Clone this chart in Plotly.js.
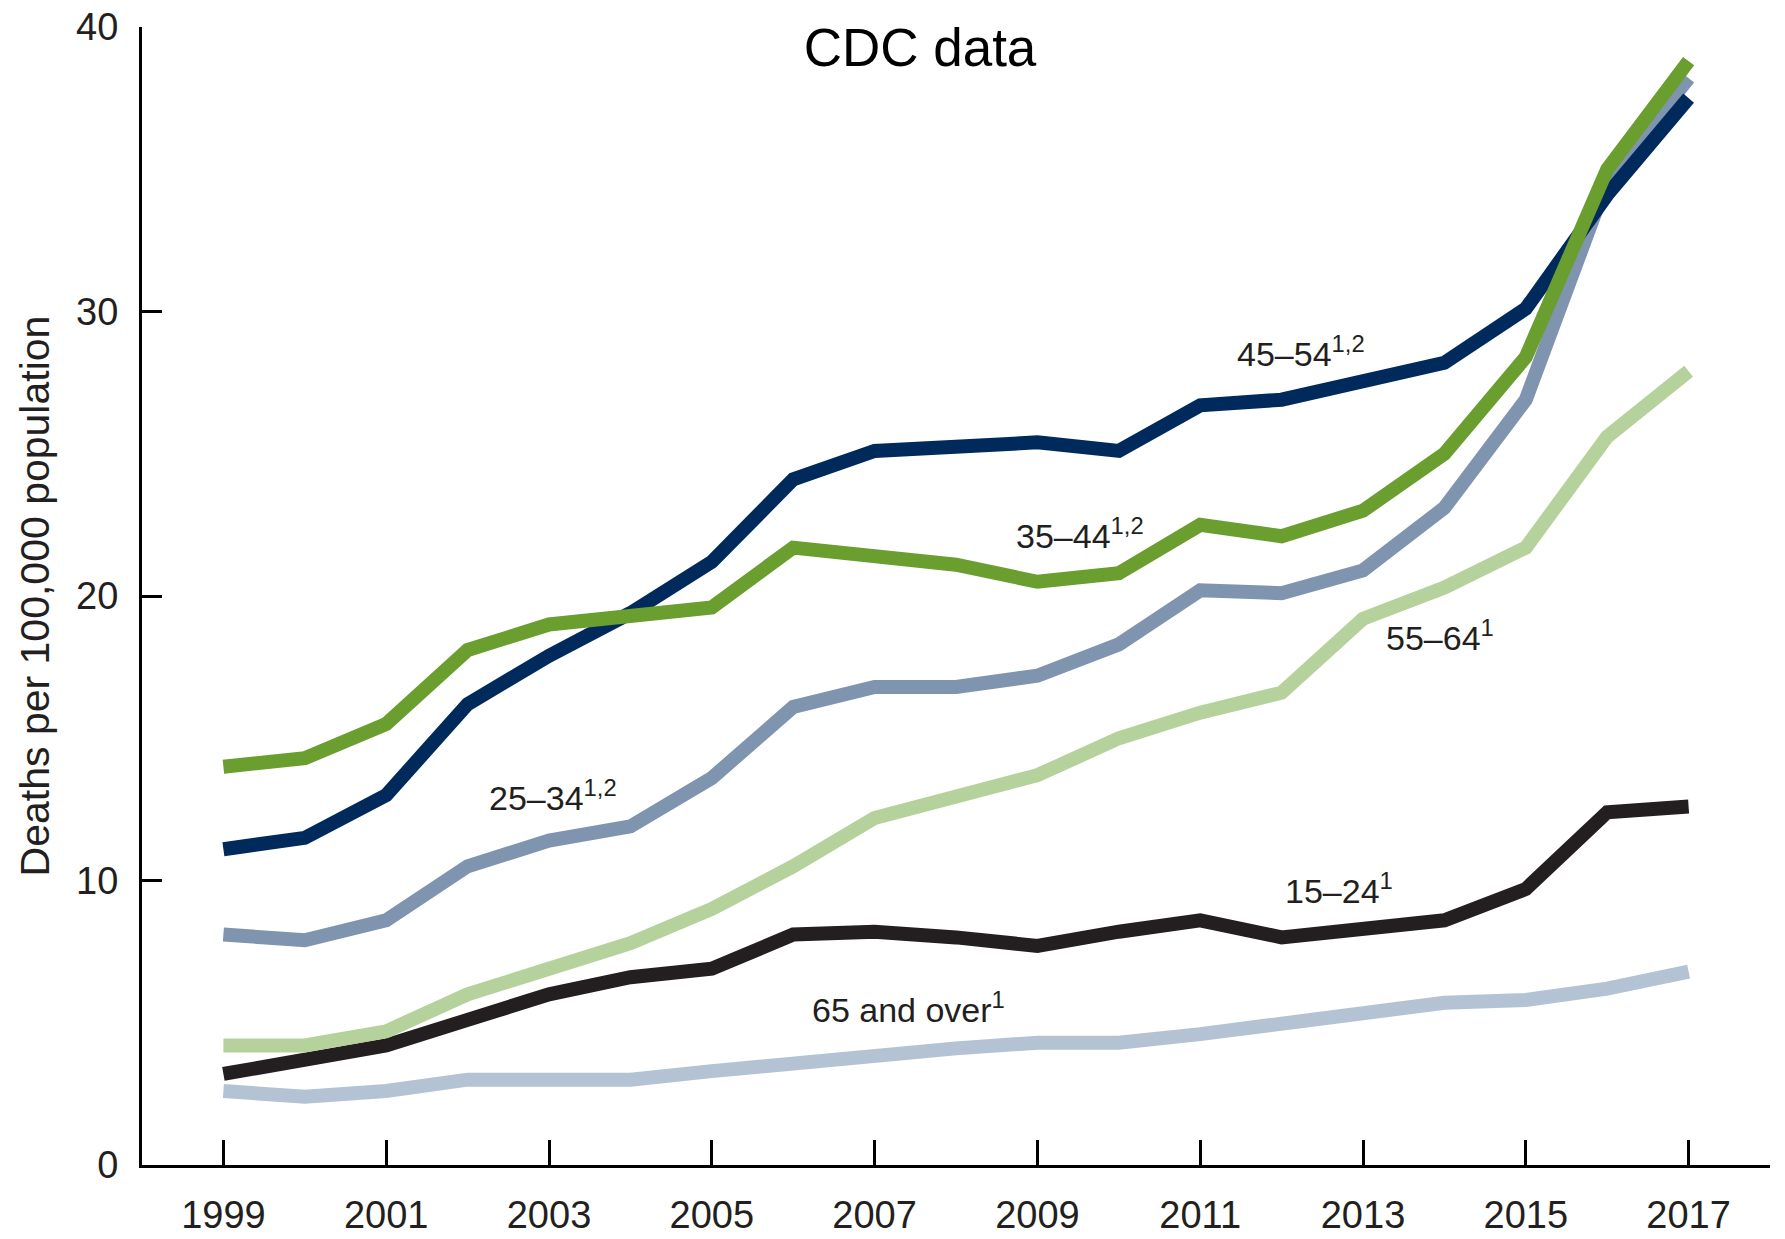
<!DOCTYPE html>
<html>
<head>
<meta charset="utf-8">
<script src="https://cdn.plot.ly/plotly-3.0.1.min.js"></script>
<style>
  html, body { margin: 0; padding: 0; background: #ffffff; }
  #chart { width: 1785px; height: 1239px; }
</style>
</head>
<body>
<div id="chart"></div>
<script>
const years = [1999,2000,2001,2002,2003,2004,2005,2006,2007,2008,2009,2010,2011,2012,2013,2014,2015,2016,2017];

const age65plus = [2.6,2.4,2.6,3.0,3.0,3.0,3.3,3.6,3.8,4.1,4.3,4.3,4.6,5.0,5.3,5.7,5.8,6.2,6.8];
const age15to24 = [3.2,3.7,4.2,5.1,6.0,6.6,6.9,8.1,8.2,8.0,7.7,8.2,8.6,8.0,8.3,8.6,9.7,12.4,12.6];
const age55to64 = [4.2,4.2,4.7,6.0,6.9,7.8,9.0,10.5,12.2,12.9,13.7,15.0,15.9,16.6,19.2,20.3,21.7,25.6,27.9];
const age25to34 = [8.1,7.9,8.6,10.5,11.4,11.9,13.6,16.1,16.8,16.8,17.2,18.3,20.2,20.1,20.9,23.1,26.9,34.6,38.2];
const age45to54 = [11.1,11.5,13.0,16.2,17.9,19.4,21.2,24.1,25.1,25.2,25.4,25.1,26.7,26.9,27.5,28.2,30.1,34.1,37.5];
const age35to44 = [14.0,14.3,15.5,18.1,19.0,19.3,19.6,21.7,21.4,21.1,20.5,20.8,22.5,22.1,23.0,25.0,28.4,35.0,38.8];

const seriesNames = ["65 and over", "15–24", "55–64", "25–34", "45–54", "35–44"];
const seriesLabels = ["65 and over<sup>1</sup>", "15–24<sup>1</sup>", "55–64<sup>1</sup>", "25–34<sup>1,2</sup>", "45–54<sup>1,2</sup>", "35–44<sup>1,2</sup>"];
const labelX = [2007.42, 2012.7, 2013.95, 2003.05, 2012.24, 2009.52];
const labelY = [5.54, 9.73, 18.6, 13.0, 28.6, 22.2];

const xTicks = [1999,2001,2003,2005,2007,2009,2011,2013,2015,2017];
const yTicks = [0,10,20,30,40];

const colors = ["#b4c3d4", "#231f20", "#b6d29c", "#7f94ae", "#002a5c", "#6a9e2f"];
const values = [age65plus, age15to24, age55to64, age25to34, age45to54, age35to44];

const sans = "'Liberation Sans', Arial, Helvetica, sans-serif";

const traces = values.map((v, i) => ({
  x: years,
  y: v,
  type: "scatter",
  mode: "lines",
  name: seriesNames[i],
  line: { color: colors[i], width: 14, shape: "linear" },
  hoverinfo: "skip"
}));

const annotations = seriesLabels.map((t, i) => ({
  x: labelX[i], y: labelY[i], xref: "x", yref: "y",
  text: t, showarrow: false,
  xanchor: "center", yanchor: "middle",
  font: { family: sans, size: 34, color: "#231f20" }
}));

const layout = {
  width: 1785,
  height: 1239,
  paper_bgcolor: "#ffffff",
  plot_bgcolor: "#ffffff",
  showlegend: false,
  margin: { l: 142, r: 15, t: 27, b: 74, pad: 0 },
  title: {
    text: "CDC data",
    x: 0.5154, xref: "container", xanchor: "center",
    y: 0.962, yref: "container", yanchor: "middle",
    font: { family: sans, size: 53, color: "#000000" }
  },
  xaxis: {
    range: [1998, 2018],
    tickmode: "array",
    tickvals: xTicks,
    ticktext: xTicks.map(String),
    ticks: "inside",
    ticklen: 25,
    tickwidth: 3,
    tickcolor: "#000000",
    showline: true,
    linecolor: "#000000",
    linewidth: 3,
    showgrid: false,
    zeroline: false,
    ticklabelstandoff: 14,
    tickfont: { family: sans, size: 38, color: "#231f20" },
    fixedrange: true
  },
  yaxis: {
    range: [0, 40],
    tickmode: "array",
    tickvals: yTicks,
    ticktext: yTicks.map(String),
    ticks: "inside",
    ticklen: 20,
    tickwidth: 3,
    tickcolor: "#000000",
    showline: true,
    linecolor: "#000000",
    linewidth: 3,
    showgrid: false,
    zeroline: false,
    ticklabelstandoff: 13,
    tickfont: { family: sans, size: 38, color: "#231f20" },
    title: {
      text: "Deaths per 100,000 population",
      font: { family: sans, size: 41, color: "#231f20" },
      standoff: 14
    },
    automargin: false,
    fixedrange: true
  },
  annotations: annotations
};

Plotly.newPlot("chart", traces, layout, { displayModeBar: false, staticPlot: true });
</script>
</body>
</html>
